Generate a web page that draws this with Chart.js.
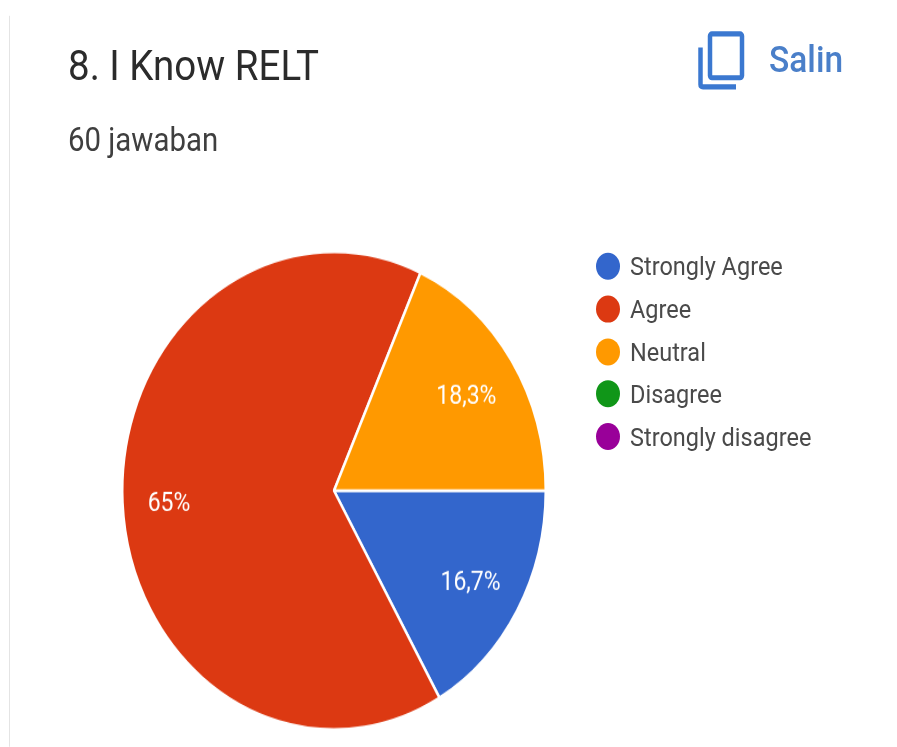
<!DOCTYPE html>
<html>
<head>
<meta charset="utf-8">
<title>8. I Know RELT</title>
<script src="https://cdn.jsdelivr.net/npm/chart.js"></script>
<style>
  html, body { margin: 0; padding: 0; background: #fff; overflow: hidden; }
  body { width: 897px; height: 747px; position: relative; font-family: Roboto, sans-serif; }
  /* the whole card is drawn tall: everything inside is stretched vertically */
  #card { position: absolute; left: 0; top: 0; width: 897px; height: 662px; transform: scaleY(1.128); transform-origin: 0 0; }
  #edge { position: absolute; left: 9px; top: 14px; width: 1px; height: 648px; background: #e4e4e4; }
  #title { position: absolute; left: 68px; top: 34px; font-size: 38.5px; line-height: 48px; color: #2b2b2b; white-space: nowrap; }
  #answers { position: absolute; left: 68px; top: 106px; font-size: 29.4px; line-height: 36px; color: #3f3f3f; white-space: nowrap; }
  #copy { position: absolute; left: 696px; top: 27px; }
  #salin { position: absolute; left: 769px; top: 33px; font-size: 33.5px; line-height: 40px; font-weight: 500; color: #4a7fc9; white-space: nowrap; }
  canvas { position: absolute; left: 0; top: 0; }
  .key { position: absolute; left: 596px; height: 30px; white-space: nowrap; font-size: 23.5px; line-height: 30px; color: #4a4a4a; }
  .key i { position: absolute; left: 0; top: 3px; width: 24px; height: 24px; border-radius: 50%; }
  .key span { position: absolute; left: 34px; top: 0; }
</style>
</head>
<body>
<div id="card">
  <div id="edge"></div>
  <div id="title">8. I Know RELT</div>
  <div id="answers">60 jawaban</div>
  <svg id="copy" width="52" height="56" viewBox="0 0 52 56" fill="none" stroke="#3b78d0" stroke-width="4.5">
    <rect x="14" y="3" width="32" height="39" rx="2"/>
    <path d="M4.5 15 V48 Q4.5 50 7 50 H40"/>
  </svg>
  <div id="salin">Salin</div>
  <canvas id="pie" width="897" height="662"></canvas>
  <div id="legend"></div>
</div>
<script>
const categories = ['Strongly Agree', 'Agree', 'Neutral', 'Disagree', 'Strongly disagree'];
const percents = [16.7, 65, 18.3, 0, 0];
const colors = ['#3366cc', '#dc3912', '#ff9900', '#109618', '#990099'];
const legendRows = [221, 259, 296.5, 334, 372];

// percentage text inside each slice, decimal comma like the form UI
const sliceLabels = {
  id: 'sliceLabels',
  afterDatasetsDraw(chart) {
    const { ctx } = chart;
    const arcs = chart.getDatasetMeta(0).data;
    ctx.save();
    ctx.font = '23px Roboto';
    ctx.fillStyle = '#fff';
    ctx.textAlign = 'center';
    ctx.textBaseline = 'middle';
    arcs.forEach((arc, i) => {
      if (!percents[i]) return;
      const { x, y, startAngle, endAngle, outerRadius } = arc.getProps(['x', 'y', 'startAngle', 'endAngle', 'outerRadius']);
      const mid = (startAngle + endAngle) / 2;
      // the big slice keeps its label a little further out
      const dist = outerRadius * (percents[i] > 50 ? 0.78 : 0.745);
      const text = String(percents[i]).replace('.', ',') + '%';
      ctx.fillText(text, x + Math.cos(mid) * dist, y + Math.sin(mid) * dist + 3.5);
    });
    ctx.restore();
  }
};

new Chart(document.getElementById('pie'), {
  type: 'pie',
  data: {
    labels: categories,
    datasets: [{
      data: percents,
      backgroundColor: colors,
      borderColor: '#fff',
      borderWidth: 2.5
    }]
  },
  options: {
    responsive: false,
    animation: false,
    rotation: 90,
    layout: { padding: { left: 121, right: 350, top: 222, bottom: 14 } },
    plugins: {
      legend: { display: false },
      tooltip: { enabled: false }
    }
  },
  plugins: [sliceLabels]
});

// legend list next to the pie
const legend = document.getElementById('legend');
categories.forEach((name, i) => {
  const row = document.createElement('div');
  row.className = 'key';
  row.style.top = legendRows[i] + 'px';
  row.innerHTML = '<i style="background:' + colors[i] + '"></i><span>' + name + '</span>';
  legend.appendChild(row);
});
</script>
</body>
</html>
